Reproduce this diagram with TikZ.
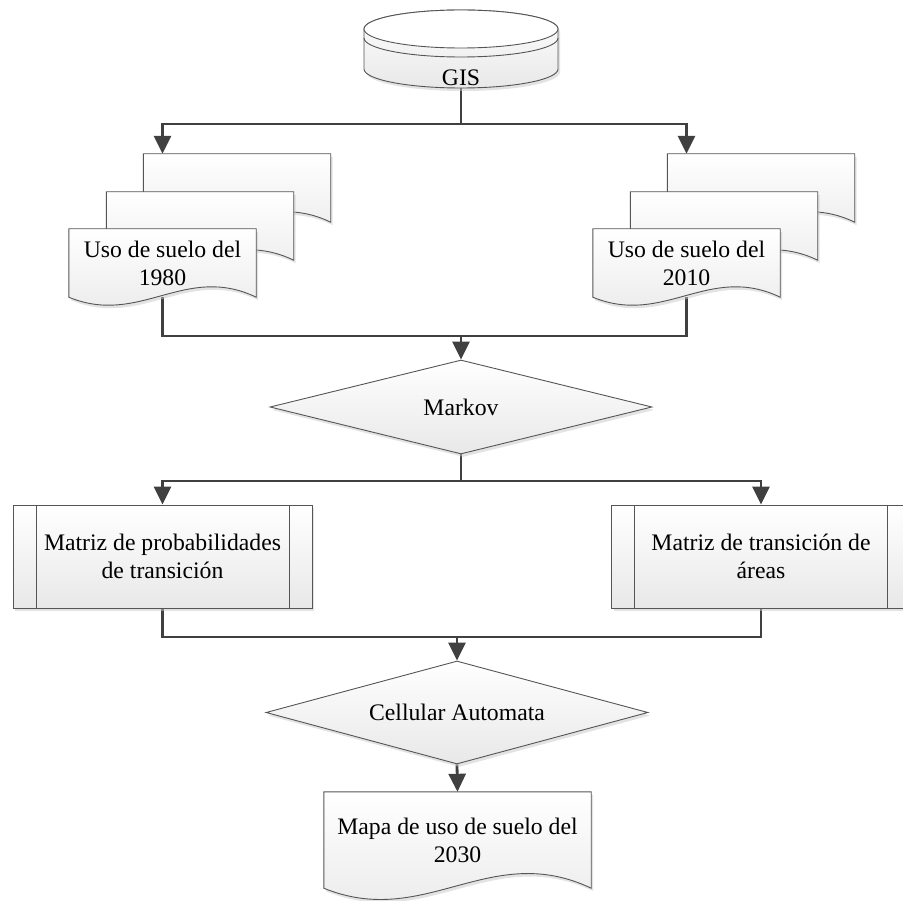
\documentclass[tikz,border=0pt]{standalone}
\usepackage{fontspec}
\setmainfont{Liberation Serif}
\usetikzlibrary{positioning}
\usetikzlibrary{calc}
\usetikzlibrary{shapes.geometric}
\usetikzlibrary{arrows.meta}
\usetikzlibrary{backgrounds}
\usetikzlibrary{shadows}
\pgfdeclarelayer{shapes}
\pgfsetlayers{background,shapes,main}
\definecolor{flowgray}{HTML}{404040}
\definecolor{edgegray}{HTML}{555555}
\tikzset{shapefill/.style = {draw=edgegray, line width=0.9pt,
                             top color=white, bottom color=black!9}}
\tikzset{shadowed/.style = {drop shadow={shadow xshift=2pt, shadow yshift=-3pt,
                                         fill=black!22, opacity=0.5}}}
\tikzset{docbox/.style = {rectangle, inner sep=0pt, align=center,
                          minimum width=187pt, minimum height=68pt}}
\tikzset{procbox/.style = {rectangle, shapefill, shadowed, inner sep=0pt, align=center,
    minimum width=299pt, minimum height=103pt,
    path picture={\draw[edgegray, line width=0.9pt]
      ([xshift=23pt]path picture bounding box.north west)
        -- ([xshift=23pt]path picture bounding box.south west)
      ([xshift=-23pt]path picture bounding box.north east)
        -- ([xshift=-23pt]path picture bounding box.south east);}}}
\tikzset{decision/.style = {diamond, aspect=4, shapefill, shadowed, inner sep=0pt,
                            minimum width=382pt, minimum height=94pt}}
\tikzset{flowline/.style = {draw=flowgray, line width=2.8pt}}
\tikzset{flowarrow/.style = {flowline, -{Triangle[length=18pt, width=17pt]}}}
% outline of a document shape, drawn behind the node text
\newcommand\docoutline[1]{%
  \begin{pgfonlayer}{shapes}
    \path[shapefill, shadowed] let \p1=(#1.north west), \p2=(#1.south east),
        \n1={\x2-\x1}, \n2={\y1-\y2} in
      (\p1) -- (\x2,\y1) -- (\p2)
      .. controls ({\x1+0.62*\n1},{\y2+0.5*\n2}) and ({\x1+0.38*\n1},{\y2-0.43*\n2})
      .. (\x1,\y2) -- cycle;
  \end{pgfonlayer}}

\begin{document}
\begin{tikzpicture}[x=1pt, y=1pt, font=\fontsize{23.7}{28}\selectfont]
  \useasboundingbox (0,0) rectangle (903,-901);
  % GIS cylinder
  \path[shapefill, shadowed] (364,-29) -- (364,-69)
    arc[start angle=180, end angle=360, x radius=97, y radius=19]
    -- (558,-29) arc[start angle=0, end angle=180, x radius=97, y radius=19] -- cycle;
  \draw[edgegray, line width=0.9pt, fill=white] (461,-29) ellipse[x radius=97, y radius=19];
  \draw[edgegray, line width=0.9pt] (364,-38)
    arc[start angle=180, end angle=360, x radius=97, y radius=19];
  \node[inner sep=0pt, minimum width=194pt, text height=76pt, text depth=2pt]
    (gis) at (461,-49) {GIS};

  % land use inputs
  \node[docbox] (useA3) at (237,-188) {};
  \node[docbox] (useA2) at (200,-226) {};
  \node[docbox] (useA1) at (162.5,-263) {Uso de suelo del\\1980};
  \docoutline{useA3} \docoutline{useA2} \docoutline{useA1}
  \node[docbox] (useB3) at (761,-188) {};
  \node[docbox] (useB2) at (724,-226) {};
  \node[docbox] (useB1) at (686.5,-263) {Uso de suelo del\\2010};
  \docoutline{useB3} \docoutline{useB2} \docoutline{useB1}

  \node[decision] (markov) at (461,-407) {Markov};
  \node[procbox] (probs) at (162.5,-556.5) {Matriz de probabilidades\\de transición};
  \node[procbox] (areas) at (761,-556.5) {Matriz de transición de\\áreas};
  \node[decision, minimum height=103pt] (cellular) at (457,-712.5) {Cellular Automata};
  \node[docbox, minimum width=267pt, minimum height=96pt]
    (mapa) at (457.5,-840) {Mapa de uso de suelo del\\2030};
  \docoutline{mapa}

  \coordinate (splitTop) at (461,-124);
  \coordinate (mergeA) at (461,-336);
  \coordinate (splitB) at (461,-481);
  \coordinate (mergeB) at (457,-637);
  \begin{scope}[on background layer]
    \draw[flowarrow] (gis.south) -- (splitTop) -| (useA1 |- useA3.north);
    \draw[flowarrow] (splitTop) -| (useB1 |- useB3.north);
    \draw[flowline] (useA1) |- (mergeA) -| (useB1);
    \draw[flowarrow] (mergeA) -- (markov.north);
    \draw[flowline] (markov) -- (splitB);
    \draw[flowarrow] (splitB) -| (probs.north);
    \draw[flowarrow] (splitB) -| (areas.north);
    \draw[flowline] (probs) |- (mergeB) -| (areas);
    \draw[flowarrow] (mergeB) -- (cellular.north);
    \draw[flowarrow] (cellular.south) -- (mapa.north);
  \end{scope}
\end{tikzpicture}
\end{document}
